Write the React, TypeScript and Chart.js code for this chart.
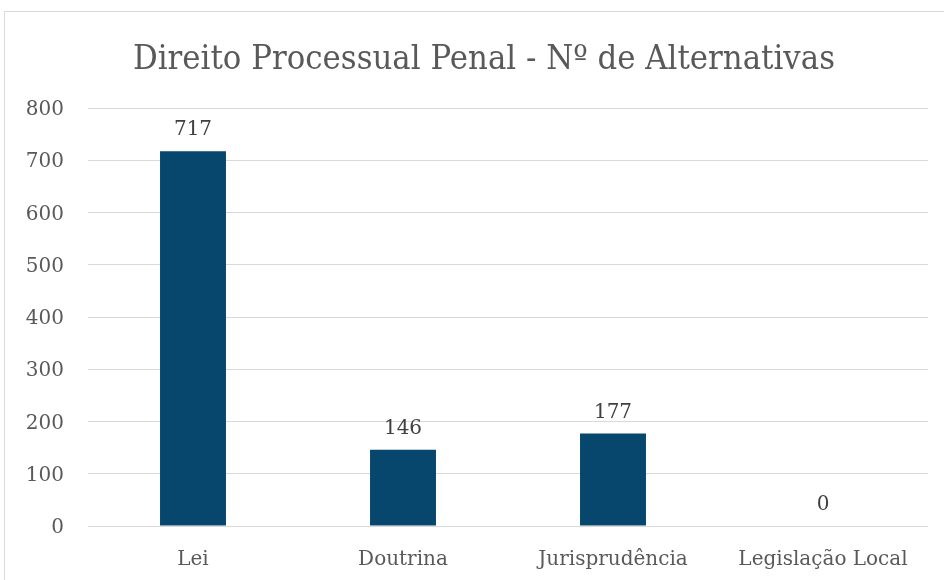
import React, { useEffect, useRef } from "react";
import { Chart, registerables } from "chart.js";

Chart.register(...registerables);

const categories = ["Lei", "Doutrina", "Jurisprudência", "Legislação Local"];
const values = [717, 146, 177, 0];
const yTicks = [0, 100, 200, 300, 400, 500, 600, 700, 800];
const titleText = "Direito Processual Penal - Nº de Alternativas";

const FONT = "'DejaVu Serif', 'Liberation Serif', serif";

const framePlugin = {
  id: "frame",
  beforeDraw(chart: any) {
    const ctx = chart.ctx;
    ctx.save();
    ctx.fillStyle = "#ffffff";
    ctx.fillRect(0, 0, chart.width, chart.height);
    ctx.strokeStyle = "#d9d9d9";
    ctx.lineWidth = 1;
    ctx.strokeRect(4.5, 11.5, 1200, 1200);
    ctx.restore();
  },
  afterDraw(chart: any) {
    const ctx = chart.ctx;
    ctx.save();
    ctx.fillStyle = "#595959";
    ctx.font = `33px ${FONT}`;
    ctx.textAlign = "center";
    ctx.textBaseline = "alphabetic";
    const w = ctx.measureText(titleText).width;
    const sx = Math.min(1, 702 / w);
    ctx.translate(484, 69);
    ctx.scale(sx, 1);
    ctx.fillText(titleText, 0, 0);
    ctx.setTransform(1, 0, 0, 1, 0, 0);
    // data labels
    const meta = chart.getDatasetMeta(0);
    ctx.fillStyle = "#404040";
    ctx.font = `20px ${FONT}`;
    meta.data.forEach((bar: any, i: number) => {
      const v = chart.data.datasets[0].data[i];
      ctx.fillText(String(v), bar.x, bar.y - 16);
    });
    ctx.restore();
  },
};

export default function App() {
  const ref = useRef<HTMLCanvasElement>(null);
  useEffect(() => {
    const chart = new Chart(ref.current!, {
      type: "bar",
      data: {
        labels: categories,
        datasets: [
          {
            data: values,
            backgroundColor: "#07466d",
            categoryPercentage: 1,
            barPercentage: 0.314,
          },
        ],
      },
      options: {
        animation: false,
        responsive: false,
        devicePixelRatio: 1,
        layout: { padding: { top: 108, right: 16, left: 0, bottom: 0 } },
        plugins: { legend: { display: false }, tooltip: { enabled: false } },
        scales: {
          x: {
            grid: { display: false },
            border: { display: false },
            ticks: {
              color: "#595959",
              font: { family: FONT, size: 20 },
              padding: 14,
              maxRotation: 0,
              autoSkip: false,
            },
            afterFit(scale: any) {
              scale.height = 54;
            },
          },
          y: {
            min: 0,
            max: 800,
            border: { display: false },
            grid: { color: "#d9d9d9", lineWidth: 1, drawTicks: false },
            afterBuildTicks(scale: any) {
              scale.ticks = yTicks.map((v) => ({ value: v }));
            },
            ticks: {
              color: "#595959",
              font: { family: FONT, size: 20 },
              padding: 24,
              labelOffset: 2,
            },
            afterFit(scale: any) {
              scale.width = 88;
            },
          },
        },
      },
      plugins: [framePlugin],
    });
    return () => chart.destroy();
  }, []);
  return (
    <div style={{ position: "fixed", left: 0, top: 0, width: 944, height: 580, background: "#fff" }}>
      <canvas ref={ref} width={944} height={580} style={{ display: "block", width: 944, height: 580 }} />
    </div>
  );
}
